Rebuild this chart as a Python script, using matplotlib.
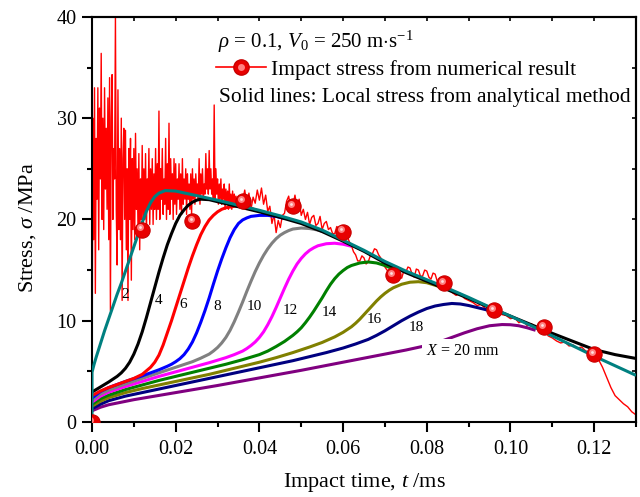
import numpy as np
import matplotlib
matplotlib.use('Agg')
import matplotlib.pyplot as plt
from matplotlib.ticker import MultipleLocator, FormatStrFormatter, NullFormatter
from matplotlib.lines import Line2D
from matplotlib.legend_handler import HandlerTuple
from matplotlib.transforms import offset_copy

plt.rcParams['font.family'] = 'Liberation Serif'
plt.rcParams['mathtext.fontset'] = 'custom'
plt.rcParams['mathtext.rm'] = 'Liberation Serif'
plt.rcParams['mathtext.it'] = 'Liberation Serif:italic'
plt.rcParams['mathtext.bf'] = 'Liberation Serif:bold'

# numerical impact stress (noisy trace)
num_early_t = np.linspace(0.0, 0.0352, 177)
num_early_v = [0, 30, 18, 33, 12.7, 28, 22, 33, 17, 31,
               24, 36.4, 20, 30, 19, 33, 23, 29, 21, 32,
               18, 34, 11.0, 30, 34.3, 20, 27, 24, 40, 21,
               15.5, 32.8, 19, 27, 18, 30, 12.0, 26, 29, 20,
               28.8, 17, 25, 12.0, 27, 20, 28, 14, 26, 19,
               27, 18, 28.5, 21, 25, 19, 26.5, 17, 24, 20,
               27.3, 19, 25, 20, 26.5, 18.5, 24, 21, 27, 19.5,
               25, 21, 26, 19.5, 24.5, 21, 27, 20, 25.5, 21,
               30.7, 20, 25, 22, 27, 20.5, 24, 21.5, 28, 20,
               25.5, 21, 29.5, 20.5, 26, 22, 24.5, 20, 26, 21.5,
               25.5, 20.5, 24, 22, 25.5, 21, 24.5, 20.5, 26, 21.5,
               24, 22, 25, 20.5, 24.5, 22, 23.5, 21, 24.5, 20.5,
               25, 22, 24, 21.5, 24.5, 22.5, 23.5, 22, 26, 21.5,
               24.5, 22.5, 25, 22, 23.5, 22.5, 26.5, 23, 25, 22.5,
               26.8, 23, 25, 22.5, 24, 22, 31.3, 22, 25, 22.5,
               24, 21.5, 23.5, 22, 24, 21.5, 23, 22, 23.5, 21,
               23, 21.5, 22.8, 21, 23.5, 21.5, 22.5, 21, 22.8, 21.2,
               22.5, 21.5, 22.3, 21.2, 22.0, 21.6, 21.8]
num_mid_t = np.linspace(0.036, 0.0835, 96)
num_mid_v = [21.8, 22.9, 21.3, 22.6, 21.0, 22.2, 21.6, 22.9, 21.9, 23.1,
             21.5, 22.4, 20.8, 21.3, 19.6, 20.5, 18.7, 19.9, 19.2, 20.4,
             20.6, 21.8, 22.3, 21.0, 21.3, 22.4, 21.2, 22.0, 20.4, 21.0,
             20.0, 20.7, 19.5, 20.2, 20.4, 19.4, 19.6, 20.3, 19.0, 19.6,
             19.8, 19.0, 19.2, 18.6, 18.6, 19.3, 19.1, 18.4, 18.8, 18.2,
             18.3, 17.8, 17.4, 16.8, 16.5, 15.9, 15.9, 16.4, 16.2, 15.6,
             15.8, 16.4, 16.6, 17.1, 17.0, 16.5, 16.2, 15.6, 15.3, 15.0,
             14.8, 14.3, 14.5, 15.0, 14.9, 14.3, 14.2, 14.9, 14.8, 15.3,
             15.2, 14.6, 14.3, 15.1, 15.0, 14.4, 14.4, 15.0, 14.9, 14.3,
             14.1, 14.7, 14.6, 13.9, 13.5, 13.9]
num_late_t = np.linspace(0.084, 0.130, 47)
num_late_v = [13.7, 13.2, 12.8, 12.5, 12.7, 12.2, 12.0, 11.8, 11.5, 11.6,
              11.2, 11.3, 11.05, 10.8, 10.6, 10.5, 10.2, 10.3, 9.8, 10.0,
              9.5, 9.7, 9.3, 9.0, 9.4, 8.5, 8.3, 8.0, 7.8, 7.9,
              7.5, 7.6, 7.3, 7.4, 7.0, 6.9, 6.7, 6.2, 5.4, 4.4,
              3.4, 2.6, 2.2, 1.8, 1.5, 1.0, 0.7]
num_t = np.concatenate([num_early_t, num_mid_t, num_late_t])
num_v = np.array(num_early_v + num_mid_v + num_late_v)

marker_t = [0.0, 0.012, 0.024, 0.036, 0.048, 0.060, 0.072, 0.084, 0.096, 0.108, 0.120]
marker_v = [0.0, 19.0, 19.8, 21.8, 21.3, 18.8, 14.5, 13.7, 11.05, 9.4, 6.7]

# analytical local stress, X = 2 ... 20 mm
x2_t = [0, 0, 0.0005, 0.001, 0.002, 0.003, 0.004, 0.005, 0.006, 0.007, 0.008, 0.009, 0.010,
        0.011, 0.012, 0.013, 0.014, 0.015, 0.016, 0.0175, 0.020, 0.025, 0.030, 0.035, 0.040,
        0.045, 0.050, 0.055, 0.060, 0.065, 0.070, 0.075, 0.080, 0.085, 0.090, 0.095, 0.100,
        0.105, 0.110, 0.115, 0.120, 0.125, 0.130]
x2_v = [0, 4.9, 5.7, 6.4, 7.7, 9.0, 10.2, 11.4, 12.6, 13.7, 14.9, 16.1, 17.3, 18.5, 19.7,
        20.8, 21.65, 22.25, 22.6, 22.85, 22.8, 22.35, 21.9, 21.4, 20.9, 20.35, 19.75, 18.95,
        17.95, 16.95, 15.85, 14.9, 14.05, 13.2, 12.3, 11.35, 10.45, 9.5, 8.5, 7.5, 6.5, 5.55, 4.6]

x4_t = [0, 0.002, 0.004, 0.006, 0.007, 0.008, 0.009, 0.010, 0.011, 0.012, 0.013, 0.014, 0.015,
        0.016, 0.017, 0.018, 0.019, 0.020, 0.021, 0.022, 0.023, 0.024, 0.025, 0.026, 0.028,
        0.030, 0.035, 0.040, 0.045, 0.050, 0.055, 0.060, 0.065, 0.070, 0.075, 0.080, 0.085,
        0.090, 0.095, 0.100, 0.105, 0.110, 0.115, 0.120, 0.125, 0.130]
x4_v = [2.95, 3.45, 3.95, 4.5, 4.85, 5.3, 5.9, 6.7, 7.7, 8.9, 10.3, 11.8, 13.3, 14.8, 16.2,
        17.5, 18.6, 19.6, 20.4, 20.95, 21.4, 21.7, 21.9, 22.0, 21.95, 21.75, 21.25, 20.75,
        20.2, 19.6, 18.8, 17.85, 16.85, 15.7, 14.75, 13.9, 13.05, 12.2, 11.3, 10.45, 9.6,
        8.75, 7.95, 7.15, 6.65, 6.27]

x6_t = [0, 0.002, 0.004, 0.006, 0.008, 0.010, 0.012, 0.013, 0.014, 0.015, 0.016, 0.017, 0.018,
        0.019, 0.020, 0.021, 0.022, 0.023, 0.024, 0.025, 0.026, 0.027, 0.028, 0.029, 0.030,
        0.031, 0.032, 0.034, 0.036, 0.038, 0.040]
x6_v = [2.6, 3.05, 3.4, 3.7, 4.0, 4.3, 4.7, 5.05, 5.4, 5.9, 6.6, 7.6, 8.8, 10.0, 11.3, 12.6,
        13.9, 15.2, 16.4, 17.5, 18.5, 19.3, 19.95, 20.4, 20.75, 21.0, 21.15, 21.3, 21.3, 21.1,
        20.8]

x8_t = [0, 0.002, 0.004, 0.008, 0.012, 0.016, 0.018, 0.019, 0.020, 0.021, 0.022, 0.023, 0.024,
        0.025, 0.026, 0.027, 0.028, 0.029, 0.030, 0.031, 0.032, 0.033, 0.034, 0.035, 0.036,
        0.037, 0.038, 0.040, 0.042, 0.044, 0.046]
x8_v = [2.35, 3.0, 3.4, 4.0, 4.55, 5.15, 5.5, 5.7, 5.95, 6.25, 6.65, 7.2, 7.9, 8.8, 9.85, 11.0,
        12.25, 13.6, 14.9, 16.1, 17.2, 18.2, 19.0, 19.6, 19.95, 20.15, 20.3, 20.4, 20.4, 20.3,
        20.1]

x10_t = [0, 0.002, 0.004, 0.008, 0.012, 0.016, 0.020, 0.024, 0.026, 0.028, 0.029, 0.030, 0.031,
         0.032, 0.033, 0.034, 0.035, 0.036, 0.037, 0.038, 0.039, 0.040, 0.041, 0.042, 0.043,
         0.044, 0.045, 0.046, 0.047, 0.048, 0.050, 0.052, 0.054, 0.056]
x10_v = [2.15, 2.75, 3.15, 3.75, 4.3, 4.85, 5.4, 5.95, 6.3, 6.7, 7.0, 7.35, 7.8, 8.35, 9.05,
         9.9, 10.85, 11.85, 12.9, 13.9, 14.85, 15.7, 16.45, 17.1, 17.65, 18.1, 18.45, 18.7,
         18.9, 19.05, 19.15, 19.1, 18.95, 18.7]

x12_t = [0, 0.002, 0.004, 0.008, 0.012, 0.016, 0.020, 0.024, 0.028, 0.032, 0.034, 0.036, 0.037,
         0.038, 0.039, 0.040, 0.041, 0.042, 0.043, 0.044, 0.045, 0.046, 0.047, 0.048, 0.049,
         0.050, 0.051, 0.052, 0.053, 0.054, 0.056, 0.058, 0.060, 0.062]
x12_v = [1.95, 2.55, 2.95, 3.5, 4.0, 4.5, 4.95, 5.4, 5.85, 6.35, 6.65, 7.0, 7.25, 7.55, 7.9,
         8.35, 8.9, 9.6, 10.4, 11.3, 12.25, 13.2, 14.1, 14.9, 15.6, 16.15, 16.6, 16.95, 17.2,
         17.4, 17.6, 17.65, 17.55, 17.35]

x14_t = [0, 0.002, 0.004, 0.008, 0.012, 0.016, 0.020, 0.024, 0.028, 0.032, 0.036, 0.040, 0.042,
         0.044, 0.046, 0.047, 0.048, 0.049, 0.050, 0.051, 0.052, 0.053, 0.054, 0.055, 0.056,
         0.057, 0.058, 0.059, 0.060, 0.061, 0.062, 0.064, 0.066, 0.068, 0.070, 0.072]
x14_v = [1.75, 2.3, 2.65, 3.2, 3.65, 4.1, 4.5, 4.9, 5.3, 5.7, 6.15, 6.65, 7.0, 7.45, 7.95, 8.25,
         8.55, 8.9, 9.3, 9.8, 10.35, 10.95, 11.6, 12.25, 12.95, 13.6, 14.15, 14.6, 14.95,
         15.25, 15.45, 15.7, 15.8, 15.7, 15.45, 15.1]

x16_t = [0, 0.002, 0.004, 0.008, 0.012, 0.016, 0.020, 0.024, 0.028, 0.032, 0.036, 0.040, 0.044,
         0.048, 0.052, 0.055, 0.058, 0.060, 0.062, 0.063, 0.064, 0.065, 0.066, 0.067, 0.068,
         0.069, 0.070, 0.071, 0.072, 0.074, 0.076, 0.078, 0.080, 0.082, 0.084]
x16_v = [1.55, 2.05, 2.4, 2.9, 3.3, 3.65, 4.0, 4.35, 4.7, 5.1, 5.5, 5.9, 6.35, 6.85, 7.4, 7.85,
         8.4, 8.85, 9.4, 9.75, 10.15, 10.6, 11.05, 11.5, 11.95, 12.35, 12.7, 13.0, 13.25, 13.6,
         13.8, 13.85, 13.75, 13.5, 13.2]

x18_t = [0, 0.002, 0.004, 0.008, 0.012, 0.016, 0.020, 0.024, 0.028, 0.032, 0.036, 0.040, 0.044,
         0.048, 0.052, 0.056, 0.060, 0.063, 0.066, 0.068, 0.070, 0.072, 0.074, 0.076, 0.078,
         0.080, 0.082, 0.084, 0.086, 0.088, 0.090, 0.092, 0.094, 0.096]
x18_v = [1.3, 1.75, 2.1, 2.55, 2.9, 3.25, 3.6, 3.95, 4.3, 4.65, 5.0, 5.35, 5.7, 6.05, 6.45,
         6.85, 7.3, 7.7, 8.15, 8.55, 9.0, 9.5, 10.0, 10.45, 10.85, 11.2, 11.45, 11.6, 11.7,
         11.65, 11.5, 11.3, 11.1, 10.85]

x20_t = [0, 0.002, 0.004, 0.010, 0.020, 0.030, 0.040, 0.050, 0.060, 0.070, 0.075, 0.080, 0.083,
         0.086, 0.089, 0.092, 0.095, 0.098, 0.100, 0.102, 0.104, 0.106]
x20_v = [1.1, 1.45, 1.7, 2.2, 2.9, 3.6, 4.35, 5.1, 5.9, 6.7, 7.1, 7.55, 7.9, 8.35, 8.8, 9.2,
         9.5, 9.62, 9.6, 9.5, 9.3, 9.05]

curve_colors = {2: '#008080', 4: '#000000', 6: '#ff0000', 8: '#0000ff', 10: '#808080',
                12: '#ff00ff', 14: '#008000', 16: '#808000', 18: '#000080', 20: '#800080'}
curves = {2: (x2_t, x2_v), 4: (x4_t, x4_v), 6: (x6_t, x6_v), 8: (x8_t, x8_v),
          10: (x10_t, x10_v), 12: (x12_t, x12_v), 14: (x14_t, x14_v), 16: (x16_t, x16_v),
          18: (x18_t, x18_v), 20: (x20_t, x20_v)}
label_pos = {2: (0.0079, 12.6), 4: (0.0158, 12.0), 6: (0.0218, 11.6), 8: (0.0298, 11.4),
             10: (0.0387, 11.4), 12: (0.0475, 11.0), 14: (0.0567, 10.8), 16: (0.0674, 10.1),
             18: (0.0775, 9.3)}

fig = plt.figure(figsize=(6.4, 4.97), dpi=100)
ax = fig.add_axes([0.14375, 0.151, 0.85, 0.815])

ax.plot(num_t, num_v, color='red', lw=1.0, zorder=1)

for X in [20, 18, 16, 14, 12, 10, 8, 6, 4, 2]:
    t, v = curves[X]
    z = 2
    if X == 4:
        z = 3
    if X == 2:
        z = 4
    ax.plot(t, v, color=curve_colors[X], lw=2.2, zorder=z, solid_capstyle='butt')

for X, (tx, vy) in label_pos.items():
    ax.text(tx, vy, str(X), fontsize=11, ha='center', va='center', zorder=7)
ax.text(0.0887, 7.0, '$X$ = 20 mm', fontsize=11.5, ha='center', va='center', zorder=7,
        bbox=dict(facecolor='white', edgecolor='none', pad=3))

# shaded "ball" markers
ax.plot(marker_t, marker_v, 'o', ms=11, mfc='#e80000', mec='#c80000', mew=0.8, zorder=5)
hl = offset_copy(ax.transData, fig=fig, x=-1.3, y=1.5, units='points')
ax.plot(marker_t, marker_v, 'o', ms=5, mfc='#ff8080', mec='none', transform=hl, zorder=6)
ax.plot(marker_t, marker_v, 'o', ms=2, mfc='#ffe0e0', mec='none', transform=hl, zorder=6)

h1 = Line2D([], [], color='red', lw=1.2, marker='o', ms=11, mfc='#e80000', mec='#c80000')
h2 = Line2D([], [], ls='none', marker='o', ms=5, mfc='#ff8080', mec='none')
ax.legend([(h1, h2)], ['Impact stress from numerical result'],
          handler_map={tuple: HandlerTuple(ndivide=1)}, loc='center left',
          bbox_to_anchor=(0.228, 0.869), frameon=False, fontsize=15.5, handlelength=2.3,
          handletextpad=0.25, borderaxespad=0, borderpad=0)
ax.text(0.2316, 0.938, r'$\rho$ = 0.1, $V_{\mathregular{0}}$ = 250 m$\cdot$s$^{\mathregular{-1}}$',
        transform=ax.transAxes, fontsize=15, ha='left', va='center')
ax.text(0.233, 0.803, 'Solid lines: Local stress from analytical method',
        transform=ax.transAxes, fontsize=15.5, ha='left', va='center')

ax.set_xlim(0, 0.13)
ax.set_ylim(0, 40)
ax.xaxis.set_major_locator(MultipleLocator(0.02))
ax.xaxis.set_minor_locator(MultipleLocator(0.01))
ax.xaxis.set_major_formatter(FormatStrFormatter('%.2f'))
ax.yaxis.set_major_locator(MultipleLocator(10))
ax.yaxis.set_minor_locator(MultipleLocator(5))
ax.tick_params(which='both', direction='out', width=1.5, labelsize=14.5)
ax.tick_params(which='major', length=7)
ax.tick_params(which='minor', length=3.5)
ax.tick_params(axis='x', pad=6)
ax.tick_params(axis='y', pad=4)
for s in ax.spines.values():
    s.set_linewidth(1.5)

sx = ax.secondary_xaxis('top')
sx.xaxis.set_major_locator(MultipleLocator(0.01))
sx.xaxis.set_major_formatter(NullFormatter())
sx.tick_params(direction='in', length=3, width=1.2)
sx.spines['top'].set_linewidth(1.5)
sy = ax.secondary_yaxis('right')
sy.yaxis.set_major_locator(MultipleLocator(5))
sy.yaxis.set_major_formatter(NullFormatter())
sy.tick_params(direction='in', length=3, width=1.2)
sy.spines['right'].set_linewidth(1.5)

ax.set_xlabel('Impact time, $t$ /ms', fontsize=16)
ax.set_ylabel(r'Stress, $\sigma$ /MPa', fontsize=16)
ax.xaxis.set_label_coords(0.5, -0.122)
ax.yaxis.set_label_coords(-0.1, 0.479)

fig.savefig('out.png', dpi=100)
